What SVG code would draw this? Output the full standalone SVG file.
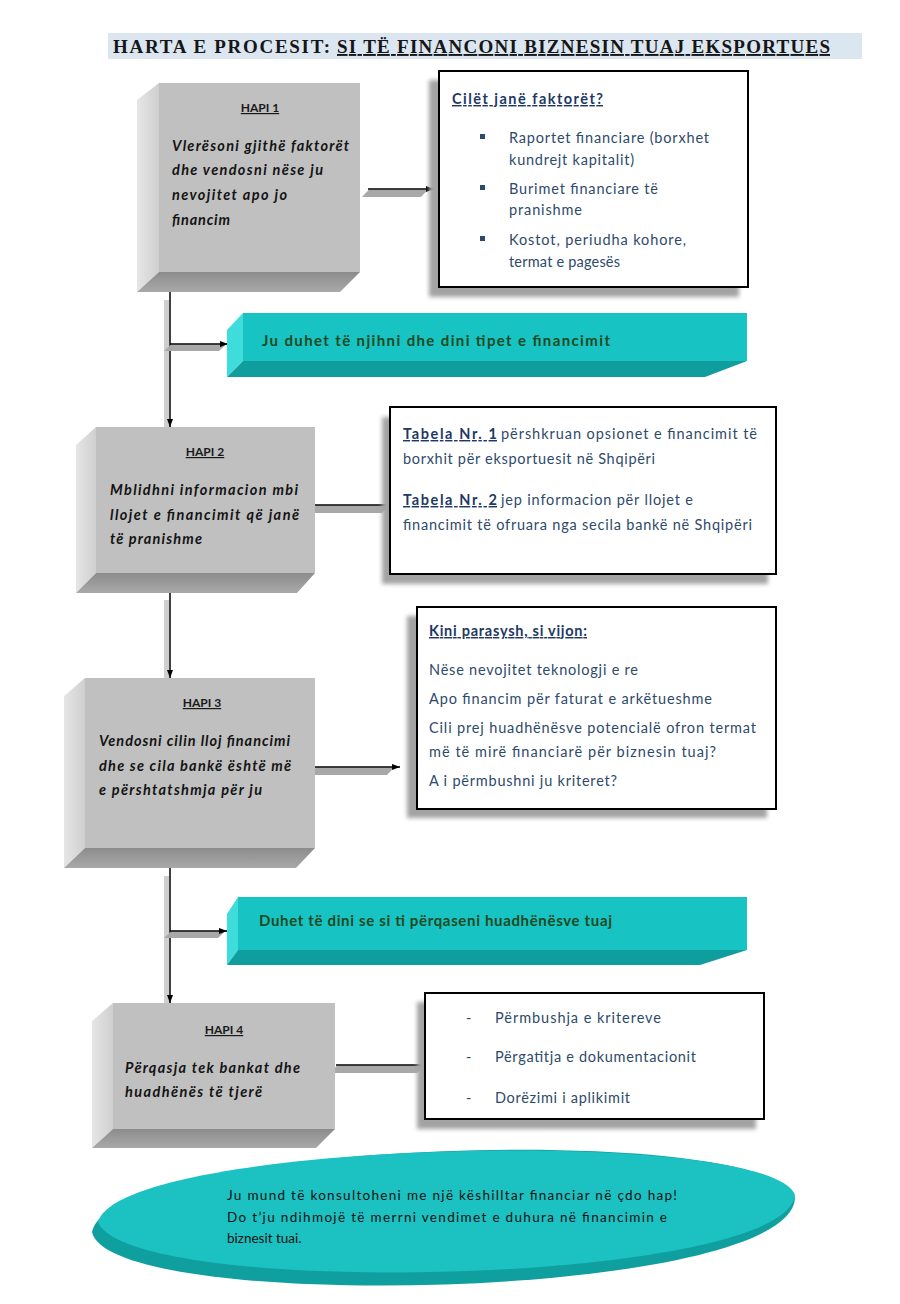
<svg xmlns="http://www.w3.org/2000/svg" width="900" height="1304" viewBox="0 0 900 1304">
<style>
.title{font-family:"Liberation Serif","Times New Roman",serif;font-weight:bold;font-size:19px;fill:#161616}
.hapi{font-family:Lato,"Open Sans",sans-serif;font-weight:bold;font-size:12px;fill:#1a1a1a;text-decoration:underline}
.step{font-family:Lato,"Open Sans",sans-serif;font-weight:bold;font-style:italic;font-size:14.5px;fill:#141414}
.info{font-family:Lato,"Open Sans",sans-serif;font-size:14.5px;fill:#2e4a6b}
.head{font-family:Lato,"Open Sans",sans-serif;font-weight:bold;font-size:14.5px;fill:#1f3864;text-decoration:underline}
.ban{font-family:Lato,"Open Sans",sans-serif;font-weight:bold;font-size:15px;fill:#1f4a22}
.ell{font-family:Lato,"Open Sans",sans-serif;font-size:13.5px;fill:#111}
.face{fill:#c0c0c0}
.lside{fill:url(#gl)}
.bside{fill:url(#gb)}
.tface{fill:#17c3c3}
.tl{fill:#3fdcdc}
.tb{fill:#0f9d9d}
.card{fill:#fff;stroke:#000;stroke-width:2}
.shadow{fill:#a3a3a3;filter:url(#blur)}
.line{stroke:#000;stroke-width:1.5;fill:none}
.lsh{fill:#a8a8a8}
.vsh{fill:#cfcfcf}
</style>
<defs>
<linearGradient id="gl" x1="0" y1="0" x2="1" y2="0"><stop offset="0" stop-color="#e6e6e6"/><stop offset="1" stop-color="#cfcfcf"/></linearGradient>
<linearGradient id="gb" x1="0" y1="0" x2="0" y2="1"><stop offset="0" stop-color="#8c8c8c"/><stop offset="1" stop-color="#a9a9a9"/></linearGradient>
<filter id="blur" x="-10%" y="-10%" width="120%" height="120%"><feGaussianBlur stdDeviation="2"/></filter>
<marker id="arr" markerWidth="8" markerHeight="6" refX="8" refY="3" orient="auto" markerUnits="userSpaceOnUse"><path d="M0,0 L8,3 L0,6 Z" fill="#000"/></marker>
</defs>

<g id="title">
<rect x="108" y="33" width="754" height="26" fill="#dce6f1"/>
<text class="title" x="113" y="53"><tspan textLength="217">HARTA E PROCESIT:</tspan><tspan x="337" textLength="493" text-decoration="underline">SI TË FINANCONI BIZNESIN TUAJ EKSPORTUES</tspan></text>
</g>

<g id="connectors">
<rect class="vsh" x="164" y="300" width="5" height="127"/>
<rect class="vsh" x="164" y="600" width="5" height="78"/>
<rect class="vsh" x="164" y="876" width="5" height="127"/>
<line class="line" x1="170" y1="292" x2="170" y2="427" marker-end="url(#arr)"/>
<line class="line" x1="170" y1="593" x2="170" y2="678" marker-end="url(#arr)"/>
<line class="line" x1="170" y1="868" x2="170" y2="1003" marker-end="url(#arr)"/>
<polygon class="lsh" points="171,344.5 226,344.5 219,351 164,351"/>
<line class="line" x1="170" y1="344" x2="228" y2="344" marker-end="url(#arr)"/>
<polygon class="lsh" points="171,931.5 225,931.5 218,938 164,938"/>
<line class="line" x1="170" y1="931" x2="227" y2="931" marker-end="url(#arr)"/>
<polygon class="lsh" points="369,189.5 428,189.5 421,197 362,197"/>
<line class="line" x1="368" y1="189" x2="434" y2="189" marker-end="url(#arr)"/>
<polygon class="lsh" points="316,505.5 389,505.5 382,513 309,513"/>
<line class="line" x1="315" y1="505" x2="390" y2="505"/>
<polygon class="lsh" points="316,767.5 394,767.5 387,775 309,775"/>
<line class="line" x1="315" y1="767" x2="400" y2="767" marker-end="url(#arr)"/>
<polygon class="lsh" points="337,1065.5 424,1065.5 417,1073 330,1073"/>
<line class="line" x1="336" y1="1065" x2="425" y2="1065"/>
</g>

<g id="hapi1">
<polygon class="lside" points="159,83 137,100 137,292 159,272"/>
<polygon class="bside" points="159,272 360,272 340,292 137,292"/>
<rect class="face" x="159" y="83" width="201" height="189"/>
<text class="hapi" x="260" y="112" text-anchor="middle">HAPI 1</text>
<text class="step" x="172" y="151" textLength="177">Vlerësoni gjithë faktorët</text>
<text class="step" x="172" y="175" textLength="151">dhe vendosni nëse ju</text>
<text class="step" x="172" y="200" textLength="115">nevojitet apo jo</text>
<text class="step" x="172" y="225" textLength="58">financim</text>
</g>

<g id="box1">
<rect class="shadow" x="429" y="80" width="310" height="217"/>
<rect class="card" x="439" y="71" width="309" height="216"/>
<text class="head" x="452" y="104" textLength="151">Cilët janë faktorët?</text>
<rect x="480" y="134" width="5" height="5" fill="#2e4a6b"/>
<rect x="480" y="185" width="5" height="5" fill="#2e4a6b"/>
<rect x="480" y="236" width="5" height="5" fill="#2e4a6b"/>
<text class="info" x="509" y="143" textLength="200">Raportet financiare (borxhet</text>
<text class="info" x="509" y="165" textLength="125">kundrejt kapitalit)</text>
<text class="info" x="509" y="194" textLength="149">Burimet financiare të</text>
<text class="info" x="509" y="215" textLength="73">pranishme</text>
<text class="info" x="509" y="245" textLength="177">Kostot, periudha kohore,</text>
<text class="info" x="509" y="267" textLength="111">termat e pagesës</text>
</g>

<g id="banner1">
<polygon class="tl" points="243,313 227,330 227,377 243,361"/>
<polygon class="tb" points="243,361 747,361 705,377 227,377"/>
<rect class="tface" x="243" y="313" width="504" height="48"/>
<text class="ban" x="262" y="346" textLength="348">Ju duhet të njihni dhe dini tipet e financimit</text>
</g>

<g id="hapi2">
<polygon class="lside" points="96,427 76,445 76,593 96,573"/>
<polygon class="bside" points="96,573 315,573 297,593 76,593"/>
<rect class="face" x="96" y="427" width="219" height="146"/>
<text class="hapi" x="205" y="456" text-anchor="middle">HAPI 2</text>
<text class="step" x="110" y="495" textLength="188">Mblidhni informacion mbi</text>
<text class="step" x="110" y="520" textLength="189">llojet e financimit që janë</text>
<text class="step" x="110" y="544" textLength="92">të pranishme</text>
</g>

<g id="box2">
<rect class="shadow" x="382" y="417" width="386" height="167"/>
<rect class="card" x="390" y="407" width="386" height="167"/>
<text class="head" x="403" y="439" textLength="94">Tabela Nr. 1</text>
<text class="info" x="501" y="439" textLength="256">përshkruan opsionet e financimit të</text>
<text class="info" x="403" y="464" textLength="252">borxhit për eksportuesit në Shqipëri</text>
<text class="head" x="403" y="505" textLength="94">Tabela Nr. 2</text>
<text class="info" x="501" y="505" textLength="192">jep informacion për llojet e</text>
<text class="info" x="403" y="530" textLength="349">financimit të ofruara nga secila bankë në Shqipëri</text>
</g>

<g id="hapi3">
<polygon class="lside" points="85,678 64,696 64,868 85,848"/>
<polygon class="bside" points="85,848 315,848 296,868 64,868"/>
<rect class="face" x="85" y="678" width="230" height="170"/>
<text class="hapi" x="202" y="707" text-anchor="middle">HAPI 3</text>
<text class="step" x="99" y="746" textLength="191">Vendosni cilin lloj financimi</text>
<text class="step" x="99" y="771" textLength="192">dhe se cila bankë është më</text>
<text class="step" x="99" y="795" textLength="163">e përshtatshmja për ju</text>
</g>

<g id="box3">
<rect class="shadow" x="407" y="616" width="360" height="202"/>
<rect class="card" x="417" y="607" width="359" height="202"/>
<text class="head" x="429" y="636" textLength="158">Kini parasysh, si vijon:</text>
<text class="info" x="429" y="675" textLength="209">Nëse nevojitet teknologji e re</text>
<text class="info" x="429" y="704" textLength="283">Apo financim për faturat e arkëtueshme</text>
<text class="info" x="429" y="733" textLength="327">Cili prej huadhënësve potencialë ofron termat</text>
<text class="info" x="429" y="757" textLength="287">më të mirë financiarë për biznesin tuaj?</text>
<text class="info" x="429" y="786" textLength="188">A i përmbushni ju kriteret?</text>
</g>

<g id="banner2">
<polygon class="tl" points="238,897 227,914 227,965 238,950"/>
<polygon class="tb" points="238,950 747,950 700,965 227,965"/>
<rect class="tface" x="238" y="897" width="509" height="53"/>
<text class="ban" x="259" y="926" textLength="353">Duhet të dini se si ti përqaseni huadhënësve tuaj</text>
</g>

<g id="hapi4">
<polygon class="lside" points="113,1003 92,1021 92,1148 113,1129"/>
<polygon class="bside" points="113,1129 335,1129 316,1148 92,1148"/>
<rect class="face" x="113" y="1003" width="222" height="126"/>
<text class="hapi" x="224" y="1034" text-anchor="middle">HAPI 4</text>
<text class="step" x="125" y="1073" textLength="175">Përqasja tek bankat dhe</text>
<text class="step" x="125" y="1097" textLength="137">huadhënës të tjerë</text>
</g>

<g id="box4">
<rect class="shadow" x="417" y="1002" width="339" height="127"/>
<rect class="card" x="425" y="993" width="339" height="126"/>
<text class="info" x="466" y="1023">-</text>
<text class="info" x="495" y="1023" textLength="166">Përmbushja e kritereve</text>
<text class="info" x="466" y="1062">-</text>
<text class="info" x="495" y="1062" textLength="201">Përgatitja e dokumentacionit</text>
<text class="info" x="466" y="1103">-</text>
<text class="info" x="495" y="1103" textLength="135">Dorëzimi i aplikimit</text>
</g>

<g id="advice">
<path d="M92,1232 C110,1140 770,1120 795,1198 C790,1300 110,1315 92,1232 Z" fill="#109f9f"/>
<path d="M98,1222 C120,1140 770,1125 795,1195 C785,1285 130,1300 98,1222 Z" fill="#1cc1c1"/>
<text class="ell" x="227" y="1200" textLength="450">Ju mund të konsultoheni me një këshilltar financiar në çdo hap!</text>
<text class="ell" x="227" y="1222" textLength="440">Do t’ju ndihmojë të merrni vendimet e duhura në financimin e</text>
<text class="ell" x="227" y="1243">biznesit tuai.</text>
</g>
</svg>
